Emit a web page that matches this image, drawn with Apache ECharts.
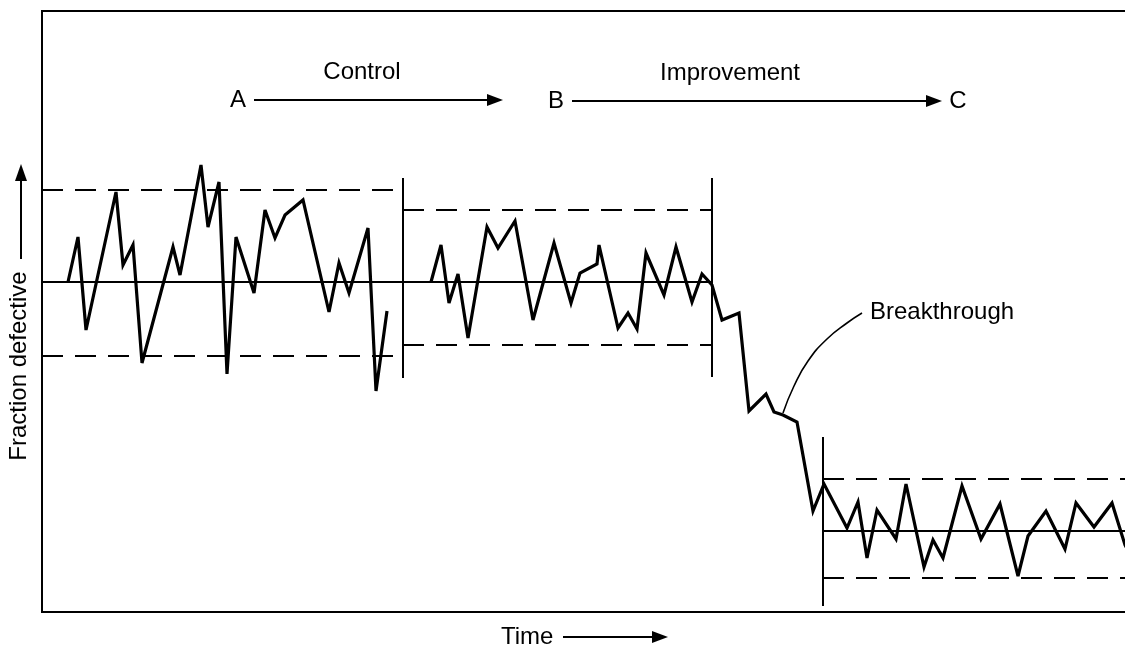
<!DOCTYPE html>
<html><head><meta charset="utf-8">
<script src="https://cdn.jsdelivr.net/npm/echarts@6/dist/echarts.min.js"></script>
<style>html,body{margin:0;padding:0;background:#fff;overflow:hidden}#c{width:1160px;height:650px}</style>
</head><body><div id="c"></div>
<script>
// Time (x) and fraction defective (y), arbitrary units
const controlPeriod = [[26,330],[36,375],[44,282],[74,420],[81,347],[91,367],[100,249],[131,365],[138,337],[159,447],[166,385],[177,430],[185,238],[194,375],[212,319],[223,402],[233,374],[243,397],[261,412],[287,300],[297,349],[307,319],[326,384],[334,221],[345,301]];
const improvementPeriod = [[389,330],[399,367],[407,309],[416,338],[426,274],[445,385],[456,364],[473,391],[491,292],[512,369],[529,309],[538,339],[555,348],[557,367],[576,284],[586,299],[595,283],[604,359],[622,317],[634,365],[650,310],[660,338],[670,327],[680,292],[697,299],[707,201],[724,218],[732,200],[741,197],[755,190],[771,101],[782,128],[805,84],[816,110],[825,54],[835,102],[854,73],[864,128],[882,45],[891,72],[901,54],[920,126],[939,73],[958,108],[976,36],[986,76],[1004,101],[1023,63],[1034,109],[1052,85],[1070,109],[1083,67],[1092,50]];
const periodStart = [0, 361, 781];
const periodEnd = [361, 670, 1100];
const upperLimit = [422, 402, 133];
const centreLine = [330, 330, 81];
const lowerLimit = [256, 267, 34];
const separatorX = [361, 670, 781];
const separatorLow = [234, 235, 6];
const separatorHigh = [434, 434, 175];
const leaderCurve = [[741,199],[752,226],[766,251],[785,273],[805,289],[820,299]];
const phaseArrows = [{from:'A', to:'', x0:212, x1:461, y:512, label:'Control', labelX:320}, {from:'B', to:'C', x0:530, x1:900, y:511, label:'Improvement', labelX:688}];

const FONT = '24px "Liberation Sans", Arial, sans-serif';
const chart = echarts.init(document.getElementById('c'), null, {renderer:'canvas', width:1160, height:650});
const series = [];
const base = {type:'line', symbol:'none', silent:true, animation:false, z:2};
series.push(Object.assign({}, base, {data: controlPeriod, lineStyle:{color:'#000', width:3.2, join:'miter', miterLimit:4}, z:5}));
series.push(Object.assign({}, base, {data: improvementPeriod, lineStyle:{color:'#000', width:3.2, join:'miter', miterLimit:4}, z:5}));
for (let i = 0; i < 3; i++) {
  series.push(Object.assign({}, base, {data:[[periodStart[i], upperLimit[i]],[periodEnd[i], upperLimit[i]]], lineStyle:{color:'#000', width:2, type:[21,12]}}));
  series.push(Object.assign({}, base, {data:[[periodStart[i], lowerLimit[i]],[periodEnd[i], lowerLimit[i]]], lineStyle:{color:'#000', width:2, type:[21,12]}}));
  series.push(Object.assign({}, base, {data:[[periodStart[i], centreLine[i]],[periodEnd[i], centreLine[i]]], lineStyle:{color:'#000', width:1.8}}));
  series.push(Object.assign({}, base, {data:[[separatorX[i], separatorLow[i]],[separatorX[i], separatorHigh[i]]], lineStyle:{color:'#000', width:2}}));
}
series.push(Object.assign({}, base, {data: leaderCurve, smooth:0.5, lineStyle:{color:'#000', width:1.6}}));

chart.setOption({
  animation:false,
  backgroundColor:'#fff',
  grid:{left:42, top:11, width:1100, height:601, outerBoundsMode:'none', containLabel:false, show:true, borderColor:'#000', borderWidth:2, backgroundColor:'transparent'},
  xAxis:{type:'value', min:0, max:1100, show:false},
  yAxis:{type:'value', min:0, max:601, show:false},
  series: series
});

function txt(text, x, y, align, extra) {
  return Object.assign({type:'text', x:x, y:y, z:10, style:{text:text, x:0, y:0, font:FONT, fill:'#000', textAlign:align||'center', textVerticalAlign:'middle'}}, extra||{});
}
function hArrow(x0, x1, y) {
  return [
    {type:'line', z:10, shape:{x1:x0, y1:y, x2:x1-12, y2:y}, style:{stroke:'#000', lineWidth:2}},
    {type:'polygon', z:10, shape:{points:[[x1-16,y-6],[x1,y],[x1-16,y+6]]}, style:{fill:'#000'}}
  ];
}
const g = [];
phaseArrows.forEach(a => {
  const p0 = chart.convertToPixel({gridIndex:0}, [a.x0, a.y]);
  const p1 = chart.convertToPixel({gridIndex:0}, [a.x1, a.y]);
  const pl = chart.convertToPixel({gridIndex:0}, [a.labelX, a.y]);
  g.push(...hArrow(p0[0], p1[0], p0[1]));
  g.push(txt(a.from, p0[0]-16, p0[1]));
  if (a.to) g.push(txt(a.to, p1[0]+16, p1[1]));
  g.push(txt(a.label, pl[0], p0[1]-28));
});
const lt = chart.convertToPixel({gridIndex:0}, leaderCurve[leaderCurve.length-1]);
g.push(txt('Breakthrough', lt[0]+8, lt[1]-1, 'left'));
g.push(txt('Time', 501, 637, 'left'));
g.push(...hArrow(563, 668, 637));
g.push(txt('Fraction defective', 19, 366, 'center', {rotation:Math.PI/2}));
g.push({type:'line', z:10, shape:{x1:21, y1:259, x2:21, y2:176}, style:{stroke:'#000', lineWidth:2}});
g.push({type:'polygon', z:10, shape:{points:[[15,181],[21,164],[27,181]]}, style:{fill:'#000'}});
chart.setOption({graphic:{elements:g}});
</script>
</body></html>
